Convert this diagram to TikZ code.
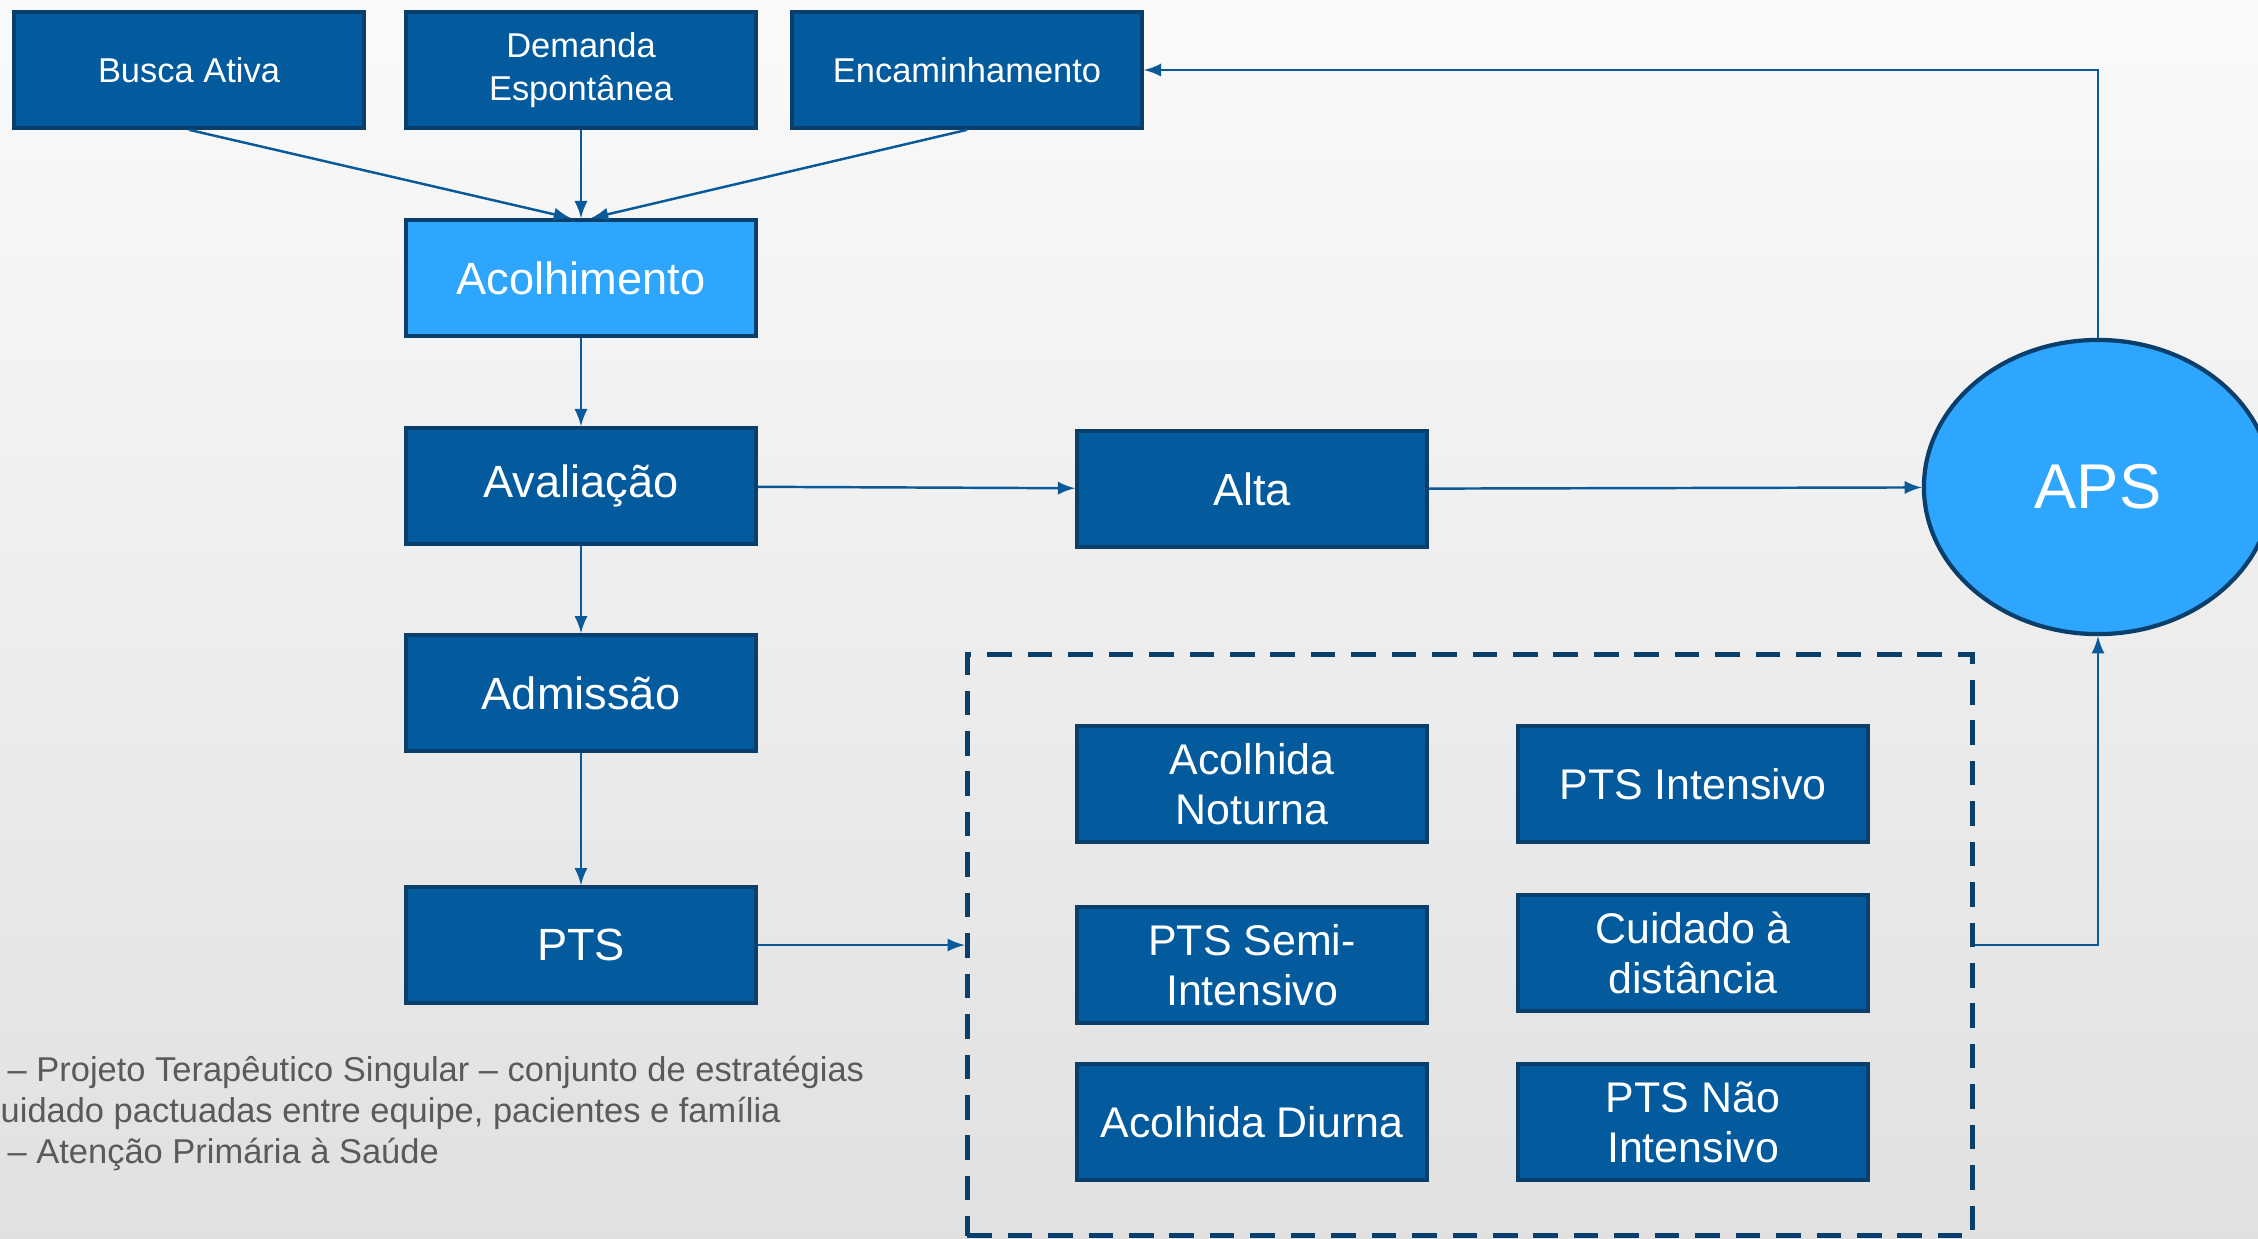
\documentclass[tikz,border=0pt]{standalone}
\usepackage{fontspec}
\setmainfont{Liberation Sans}
\usetikzlibrary{arrows,shapes.geometric,positioning}

\definecolor{caixa}{HTML}{035A9D}
\definecolor{borda}{HTML}{0A3F6B}
\definecolor{claro}{HTML}{2EA6FE}
\definecolor{seta}{HTML}{0A5A9A}
\definecolor{nota}{HTML}{5A5A5A}

\begin{document}
\begin{tikzpicture}[x=0.01cm,y=-0.01cm,
  etapa/.style={draw=borda,line width=1pt,fill=caixa,text=white,
    minimum width=3.5cm,minimum height=1.16cm,align=center,inner sep=2pt},
  entrada/.style={etapa,font=\fontsize{9.8}{12.4}\selectfont},
  grande/.style={etapa,font=\fontsize{12.85}{14.5}\selectfont},
  modalidade/.style={etapa,font=\fontsize{12.2}{14.3}\selectfont},
  fluxo/.style={draw=seta,line width=0.7pt,->,>=latex},
  legenda/.style={anchor=base west,inner sep=0pt,text=nota,
    font=\fontsize{9.8}{11.7}\selectfont}]

% fundo
\shade[top color=black!2,bottom color=black!12] (0,0) rectangle (2258,1238);
\useasboundingbox (0,0) rectangle (2258,1238);

% entradas
\node[entrada] (busca) at (189,70) {Busca Ativa};
\node[entrada] (demanda) at (581,70) {Demanda\\Espontânea};
\node[entrada] (encam) at (967,70) {Encaminhamento};

% fluxo principal
\node[grande,fill=claro] (acolh) at (581,278) {Acolhimento};
\node[grande] (aval) at (581,486) {Avaliação};
\node[grande] (admis) at (581,693) {Admissão};
\node[grande] (pts) at (581,945) {PTS};
\node[grande] (alta) at (1252,489) {Alta};
\node[ellipse,draw=borda,line width=1.2pt,fill=claro,text=white,
  minimum width=3.48cm,minimum height=2.94cm,
  font=\fontsize{18}{22}\selectfont] (aps) at (2098,487) {APS};

% modalidades
\node[draw=borda,line width=1.4pt,dash pattern=on 7pt off 4.5pt,
  minimum width=10.05cm,minimum height=5.81cm] (grupo) at (1470,945) {};
\node[modalidade] (noturna) at (1252,784) {Acolhida\\Noturna};
\node[modalidade] (intensivo) at (1693,784) {PTS Intensivo};
\node[modalidade] (semi) at (1252,965) {PTS Semi-\\Intensivo};
\node[modalidade] (distancia) at (1693,953) {Cuidado à\\distância};
\node[modalidade] (diurna) at (1252,1122) {Acolhida Diurna};
\node[modalidade] (naoint) at (1693,1122) {PTS Não\\Intensivo};

% setas
\draw[fluxo] (busca.south) -- ([xshift=-0.1cm]acolh.north);
\draw[fluxo] (demanda) -- (acolh);
\draw[fluxo] (encam.south) -- ([xshift=0.1cm]acolh.north);
\draw[fluxo] (acolh) -- (aval);
\draw[fluxo] (aval) -- (admis);
\draw[fluxo] (admis) -- (pts);
\draw[fluxo] (aval) -- (alta);
\draw[fluxo] (alta) -- (aps);
\draw[fluxo] (pts) -- (grupo.west |- pts);
\draw[fluxo] (grupo.east) -| (aps.south);
\draw[fluxo] (aps.north) |- (encam.east);

% legenda
\node[legenda] (nota1) at (7,1081) {– Projeto Terapêutico Singular – conjunto de estratégias};
\node[legenda] (nota2) at (0,1122) {uidado pactuadas entre equipe, pacientes e família};
\node[legenda] (nota3) at (7,1163) {– Atenção Primária à Saúde};
\end{tikzpicture}
\end{document}
